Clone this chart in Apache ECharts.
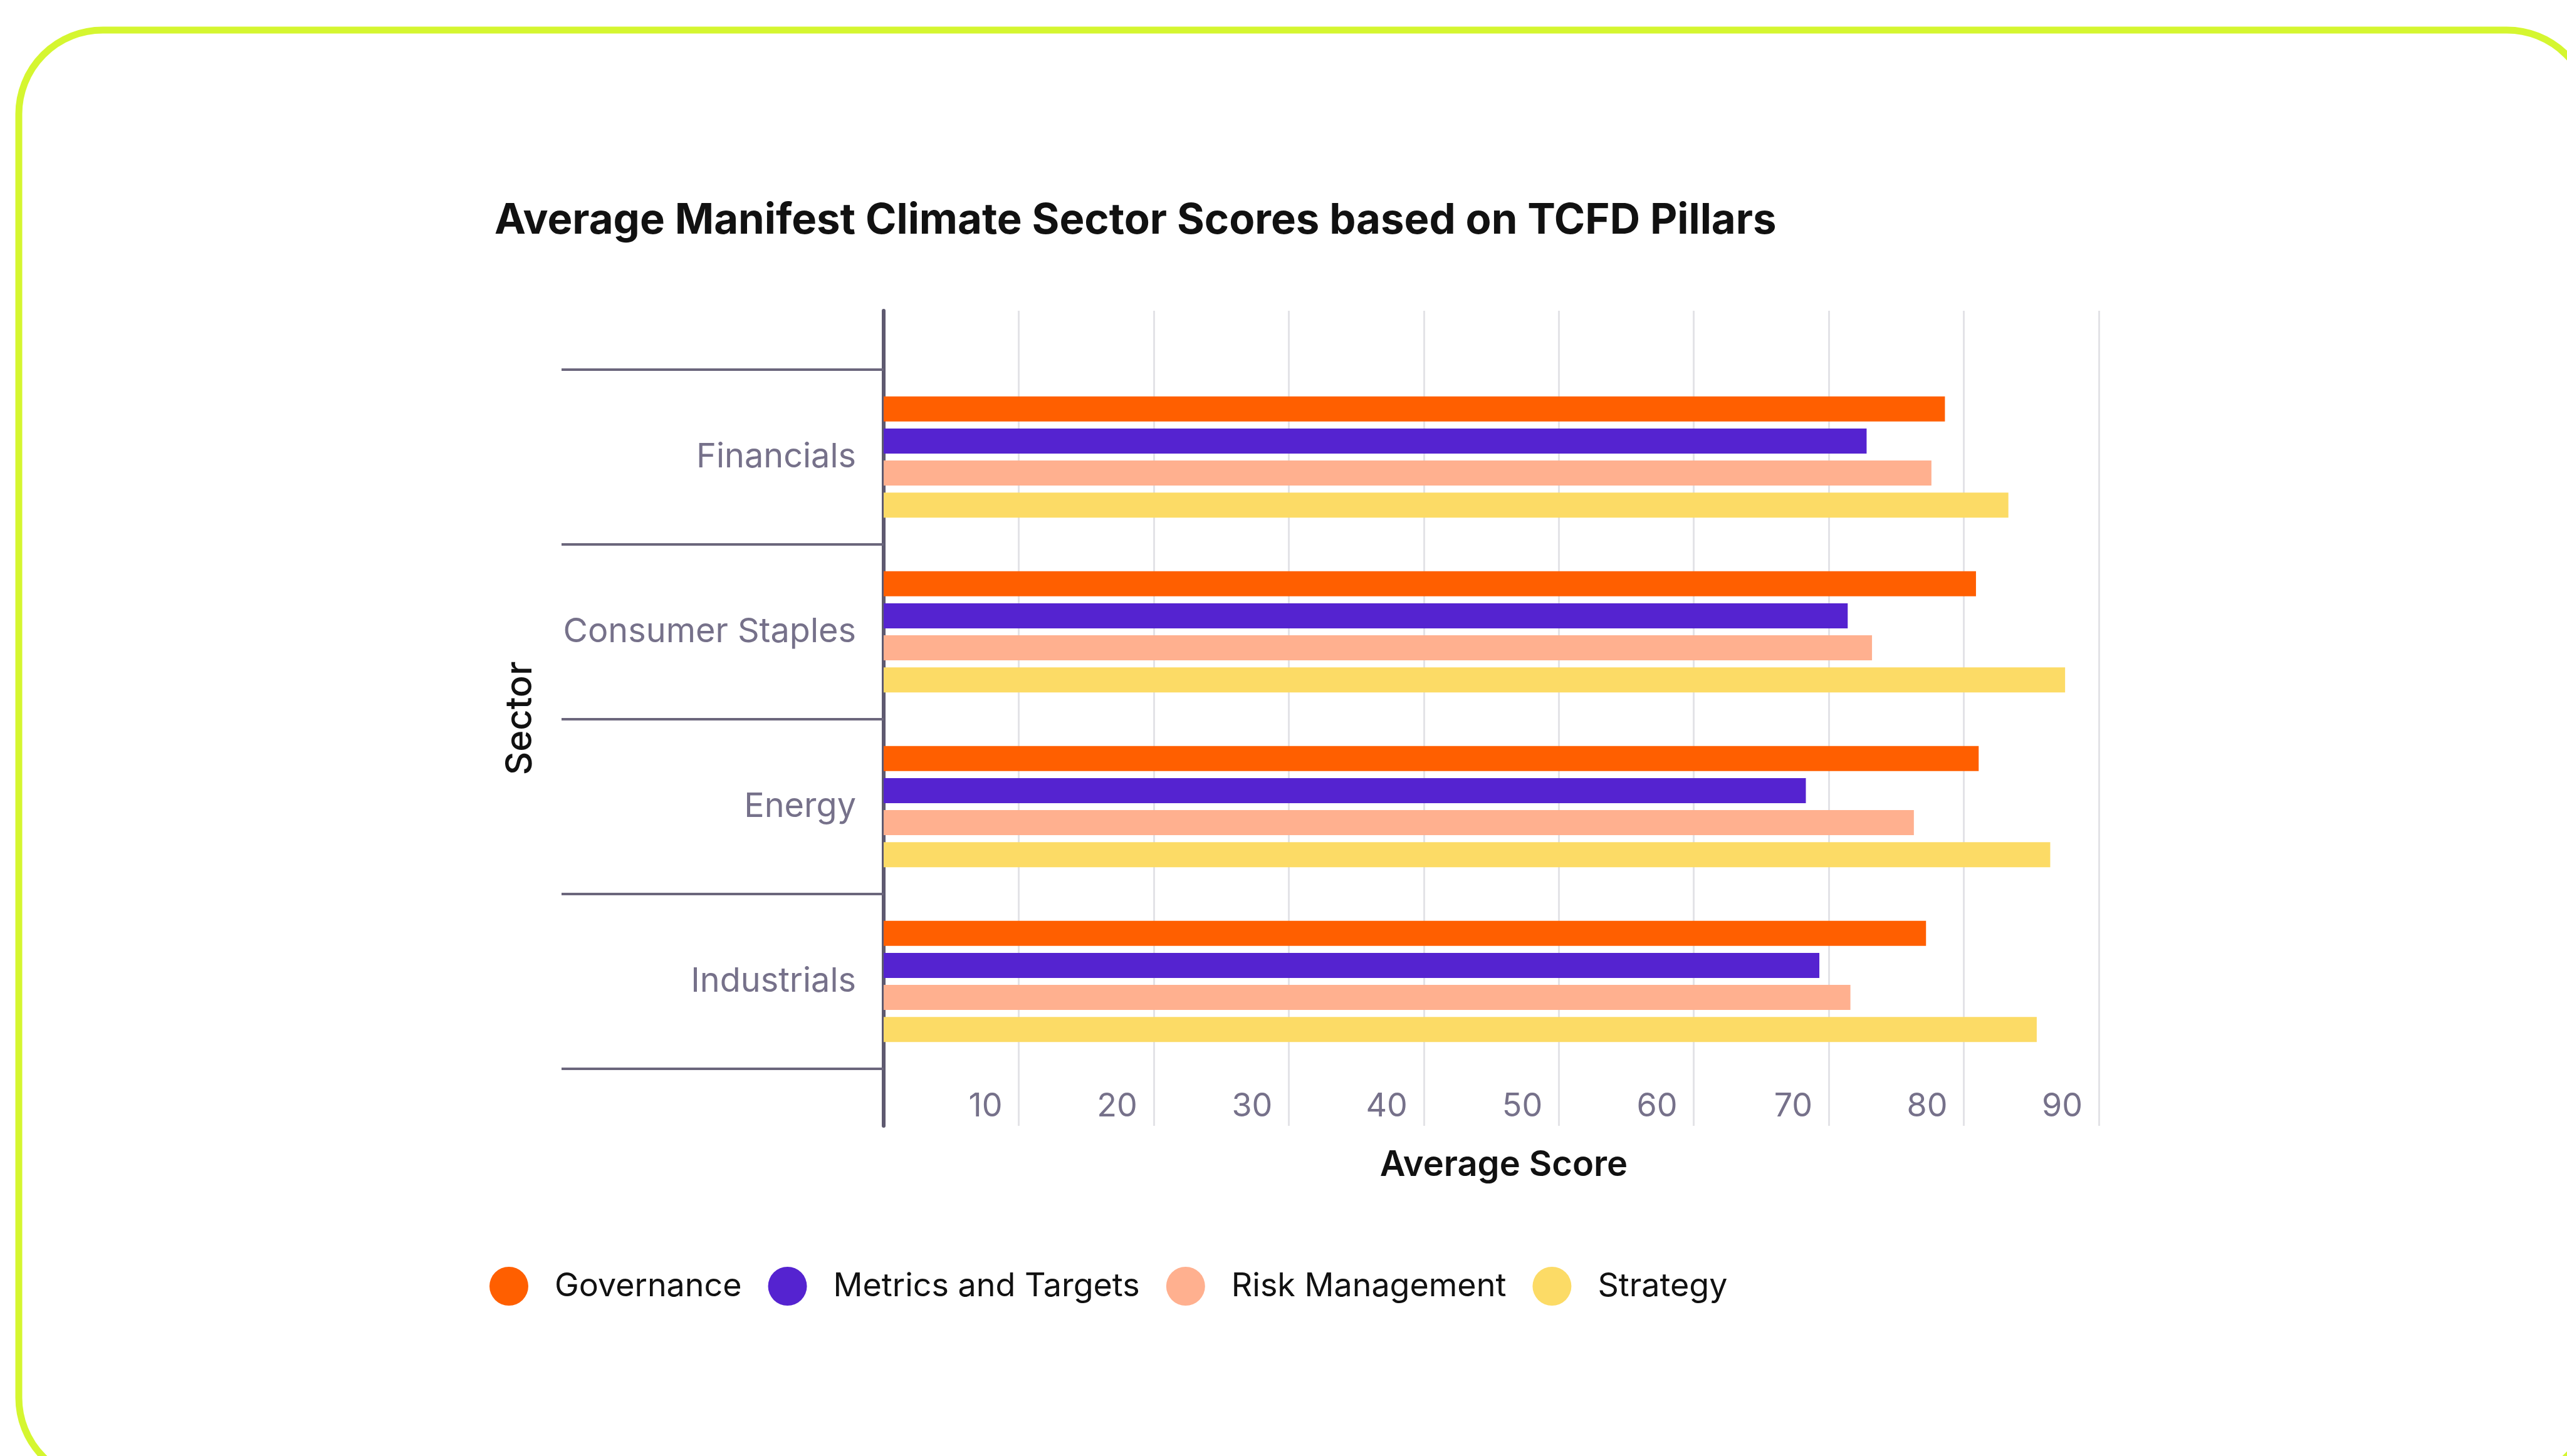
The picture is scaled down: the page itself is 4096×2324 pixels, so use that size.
<!DOCTYPE html>
<html>
<head>
<meta charset="utf-8">
<title>Average Manifest Climate Sector Scores</title>
<script src="https://cdn.jsdelivr.net/npm/echarts@6/dist/echarts.min.js"></script>
<style>
  html, body { margin: 0; padding: 0; background: #fff; }
  #chart { width: 4096px; height: 2324px; }
</style>
</head>
<body>
<div id="chart"></div>
<script>
// sectors, top to bottom
const sectors = ['Financials', 'Consumer Staples', 'Energy', 'Industrials'];

// average score per TCFD pillar
const governance = [78.6, 80.9, 81.1, 77.2];
const metricsTargets = [72.8, 71.4, 68.3, 69.3];
const riskManagement = [77.6, 73.2, 76.3, 71.6];
const strategy = [83.3, 87.5, 86.4, 85.4];

const pillarNames = ['Governance', 'Metrics and Targets', 'Risk Management', 'Strategy'];
const pillarColors = ['#ff5f00', '#5523d0', '#ffb08f', '#fcdb66'];
const pillarValues = [governance, metricsTargets, riskManagement, strategy];

const scoreMin = 0;
const scoreMax = 90;
const scoreStep = 10;

const FONT = 'Inter';
const GRAY = '#76718a';
const LINE = '#6b667c';

// plot frame
const plotLeft = 1410;
const plotWidth = 1939;

const chart = echarts.init(document.getElementById('chart'));

const series = pillarNames.map((name, i) => ({
  name: name,
  type: 'bar',
  xAxisIndex: 0,
  yAxisIndex: 0,
  data: pillarValues[i],
  barWidth: 40,
  barGap: '28%',
  itemStyle: { color: pillarColors[i] },
  emphasis: { disabled: true }
}));

chart.setOption({
  backgroundColor: '#ffffff',
  animation: false,
  title: {
    text: 'Average Manifest Climate Sector Scores based on TCFD Pillars',
    left: 789,
    top: 318,
    padding: 0,
    textStyle: {
      fontFamily: FONT,
      fontSize: 67,
      fontWeight: 700,
      color: '#111111',
      lineHeight: 70
    }
  },
  legend: {
    data: pillarNames,
    icon: 'circle',
    left: 781,
    top: 2022,
    itemWidth: 62,
    itemHeight: 62,
    itemGap: 42,
    padding: 0,
    selectedMode: false,
    textStyle: {
      fontFamily: FONT,
      fontSize: 52,
      color: '#111111',
      padding: [0, 0, 0, 37]
    }
  },
  graphic: [{
    type: 'rect',
    silent: true,
    z: -10,
    shape: { x: 30, y: 48, width: 4104, height: 2317, r: 134 },
    style: { fill: 'none', stroke: '#d5f630', lineWidth: 11 }
  }],
  grid: [
    { left: plotLeft, width: plotWidth, top: 590, height: 1116 },
    { left: plotLeft, width: plotWidth, top: 496, height: 1301 }
  ],
  xAxis: [
    {
      gridIndex: 0,
      type: 'value',
      min: scoreMin,
      max: scoreMax,
      interval: scoreStep,
      show: false
    },
    {
      gridIndex: 1,
      type: 'value',
      min: scoreMin,
      max: scoreMax,
      interval: scoreStep,
      axisLine: { show: false },
      axisTick: { show: false },
      splitLine: { show: true, lineStyle: { color: '#e3e3e7', width: 3 } },
      axisLabel: {
        inside: true,
        showMinLabel: false,
        margin: 31,
        align: 'right',
        verticalAlign: 'middle',
        padding: [0, 26, 0, 0],
        fontFamily: FONT,
        fontSize: 52,
        color: GRAY
      },
      name: 'Average Score',
      nameLocation: 'middle',
      nameGap: 63,
      nameTextStyle: {
        fontFamily: FONT,
        fontSize: 56,
        fontWeight: 600,
        color: '#111111',
        verticalAlign: 'middle',
        padding: [0, 0, 0, 40]
      }
    }
  ],
  yAxis: [
    {
      gridIndex: 0,
      type: 'category',
      data: sectors,
      inverse: true,
      axisLine: { show: false },
      axisTick: {
        show: true,
        length: 514,
        lineStyle: { color: LINE, width: 4 }
      },
      axisLabel: {
        margin: 44,
        fontFamily: FONT,
        fontSize: 54,
        color: GRAY
      },
      splitLine: { show: false }
    },
    {
      gridIndex: 1,
      type: 'value',
      min: 0,
      max: 1,
      axisLine: { show: true, lineStyle: { color: '#5e5a70', width: 6 } },
      axisTick: { show: false },
      axisLabel: { show: false },
      splitLine: { show: false },
      name: 'Sector',
      nameLocation: 'middle',
      nameRotate: 90,
      nameGap: 579,
      nameTextStyle: {
        fontFamily: FONT,
        fontSize: 58,
        fontWeight: 500,
        color: '#111111',
        verticalAlign: 'middle'
      }
    }
  ],
  series: series
});
</script>
</body>
</html>
